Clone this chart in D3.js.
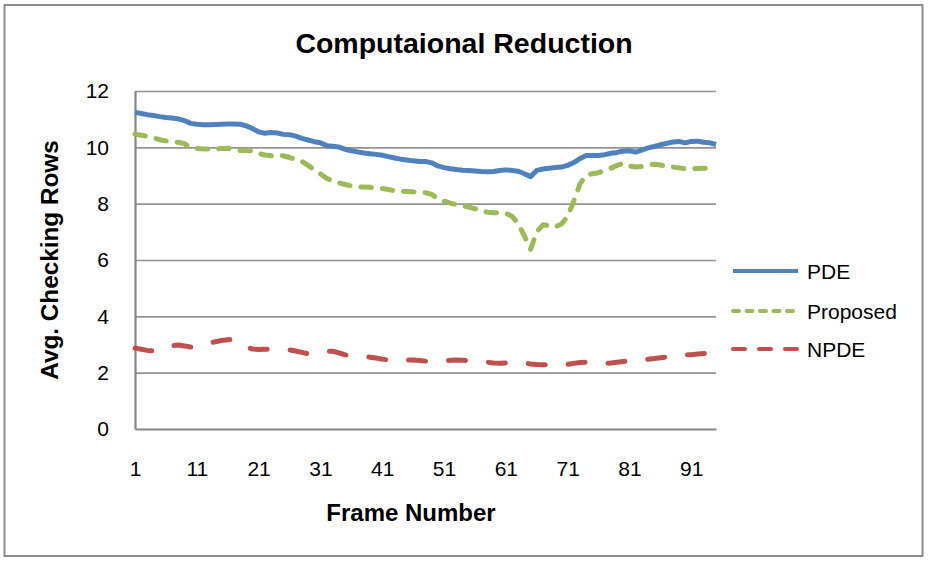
<!DOCTYPE html>
<html>
<head>
<meta charset="utf-8">
<script src="https://cdn.jsdelivr.net/npm/d3@7"></script>
<style>
  html, body { margin: 0; padding: 0; background: #fff; }
  svg { display: block; }
  text { font-family: "Liberation Sans", Arial, Helvetica, sans-serif; fill: #000; }
</style>
</head>
<body>
<svg id="chart" width="928" height="561"></svg>
<script>
// Average number of checked rows per frame for three methods
const pde = [
  11.24, 11.2, 11.16, 11.13, 11.09, 11.06, 11.04, 11.01, 10.95, 10.85,
  10.82, 10.8, 10.8, 10.81, 10.82, 10.83, 10.83, 10.82, 10.76, 10.67,
  10.55, 10.5, 10.53, 10.51, 10.46, 10.45, 10.4, 10.32, 10.26, 10.2,
  10.16, 10.06, 10.04, 10.01, 9.93, 9.88, 9.84, 9.8, 9.77, 9.75,
  9.72, 9.67, 9.62, 9.58, 9.55, 9.52, 9.5, 9.5, 9.45, 9.34,
  9.28, 9.24, 9.21, 9.19, 9.18, 9.16, 9.14, 9.13, 9.14, 9.18,
  9.2, 9.18, 9.15, 9.06, 8.96, 9.18, 9.23, 9.26, 9.28, 9.3,
  9.36, 9.46, 9.6, 9.71, 9.71, 9.71, 9.74, 9.79, 9.82, 9.87,
  9.88, 9.83, 9.9, 9.98, 10.03, 10.09, 10.14, 10.19, 10.21, 10.16,
  10.21, 10.22, 10.18, 10.16, 10.1
];
const proposed = [
  10.47, 10.43, 10.39, 10.34, 10.27, 10.23, 10.2, 10.18, 10.13, 9.99,
  9.96, 9.94, 9.94, 9.94, 9.96, 9.97, 9.93, 9.89, 9.89, 9.87,
  9.78, 9.73, 9.7, 9.72, 9.7, 9.64, 9.57, 9.5, 9.36, 9.2,
  9.06, 8.9, 8.8, 8.74, 8.68, 8.63, 8.6, 8.59, 8.58, 8.56,
  8.54, 8.5, 8.46, 8.44, 8.43, 8.42, 8.41, 8.39, 8.33, 8.17,
  8.09, 8.02, 7.97, 7.93, 7.88, 7.82, 7.75, 7.7, 7.68, 7.67,
  7.66, 7.55, 7.3, 6.85, 6.38, 7.0, 7.25, 7.22, 7.17, 7.28,
  7.55, 8.1, 8.7, 9.02, 9.06, 9.1, 9.18, 9.26, 9.36, 9.44,
  9.34, 9.3, 9.32, 9.37, 9.4, 9.37, 9.33, 9.3, 9.27, 9.24,
  9.24, 9.25, 9.26, 9.26, 9.26
];
const npde = [
  2.87, 2.83, 2.79, 2.77, 2.8, 2.88, 2.96, 2.98, 2.95, 2.91,
  2.92, 2.98, 3.05, 3.1, 3.14, 3.17, 3.19, 3.05, 2.9, 2.84,
  2.82, 2.83, 2.83, 2.83, 2.82, 2.81, 2.77, 2.72, 2.67, 2.68,
  2.72, 2.76, 2.76, 2.7, 2.63, 2.6, 2.58, 2.57, 2.55, 2.52,
  2.48, 2.45, 2.44, 2.45, 2.45, 2.45, 2.43, 2.41, 2.39, 2.4,
  2.42, 2.44, 2.45, 2.44, 2.43, 2.42, 2.4, 2.37, 2.34, 2.33,
  2.34, 2.35, 2.36, 2.34, 2.31, 2.29, 2.28, 2.28, 2.28, 2.28,
  2.3, 2.33, 2.36, 2.37, 2.36, 2.34, 2.33, 2.34, 2.37, 2.4,
  2.42, 2.44, 2.46, 2.48, 2.5, 2.53, 2.56, 2.59, 2.61, 2.63,
  2.64, 2.66, 2.68, 2.7, 2.72
];
const frames = pde.map((_, i) => i + 1);
const xTickLabels = [1, 11, 21, 31, 41, 51, 61, 71, 81, 91];
const yTickLabels = [0, 2, 4, 6, 8, 10, 12];
const seriesNames = ["PDE", "Proposed", "NPDE"];

const series = [
  { name: seriesNames[0], values: pde,      color: "#4F81BD", dash: null,      legendDash: null },
  { name: seriesNames[1], values: proposed, color: "#9BBB59", dash: "10.5 11", legendDash: "6 7.5" },
  { name: seriesNames[2], values: npde,     color: "#C0504D", dash: "17 23",   legendDash: "12 14" }
];

const svg = d3.select("#chart");
const plot = { left: 135, right: 716, top: 91, bottom: 429 };

const x = d3.scaleLinear().domain([1, frames.length]).range([plot.left, plot.right]);
const y = d3.scaleLinear().domain([0, 12]).range([plot.bottom, plot.top]);

// Outer chart frame
svg.append("rect")
  .attr("x", 4.5).attr("y", 5).attr("width", 918).attr("height", 551)
  .attr("fill", "#fff").attr("stroke", "#8c8c8c").attr("stroke-width", 2);

// Title
svg.append("text")
  .attr("x", 464).attr("y", 53)
  .attr("text-anchor", "middle")
  .style("font-size", "28.5px").style("font-weight", "bold")
  .text("Computaional Reduction");

// Horizontal gridlines
svg.append("g")
  .attr("transform", `translate(${plot.left},0)`)
  .call(d3.axisLeft(y).tickValues(yTickLabels.filter(v => v > 0))
    .tickSize(-(plot.right - plot.left)).tickFormat(""))
  .call(g => g.select(".domain").remove())
  .call(g => g.selectAll("line").attr("stroke", "#939393").attr("stroke-width", 1.6));

// Y axis
svg.append("g")
  .attr("transform", `translate(${plot.left},0)`)
  .call(d3.axisLeft(y).tickValues(yTickLabels).tickSize(0).tickPadding(26))
  .call(g => g.select(".domain").attr("stroke", "#868686").attr("stroke-width", 2.2))
  .call(g => g.selectAll("text").style("font-size", "21px")
    .style("font-family", "'Liberation Sans', Arial, sans-serif").attr("fill", "#000"));

// X axis
svg.append("g")
  .attr("transform", `translate(0,${plot.bottom})`)
  .call(d3.axisBottom(x).tickValues(xTickLabels).tickSize(0).tickPadding(32).tickFormat(d3.format("d")))
  .call(g => g.select(".domain").attr("stroke", "#868686").attr("stroke-width", 2.2))
  .call(g => g.selectAll("text").style("font-size", "21px")
    .style("font-family", "'Liberation Sans', Arial, sans-serif").attr("fill", "#000"));

// Axis titles
svg.append("text")
  .attr("x", 411).attr("y", 521)
  .attr("text-anchor", "middle")
  .style("font-size", "24px").style("font-weight", "bold")
  .text("Frame Number");

svg.append("text")
  .attr("transform", `translate(58,${(plot.top + plot.bottom) / 2}) rotate(-90)`)
  .attr("text-anchor", "middle")
  .style("font-size", "24.3px").style("font-weight", "bold")
  .text("Avg. Checking Rows");

// Series lines
const line = d3.line().x((d, i) => x(frames[i])).y(d => y(d));

svg.append("g").selectAll("path")
  .data(series)
  .join("path")
  .attr("d", s => line(s.values))
  .attr("fill", "none")
  .attr("stroke", s => s.color)
  .attr("stroke-width", 5)
  .attr("stroke-linejoin", "round")
  .attr("stroke-linecap", s => s.dash ? "round" : "butt")
  .attr("stroke-dasharray", s => s.dash);

// Legend
const legend = svg.append("g");
const legendY = [271, 311, 349];
series.forEach((s, i) => {
  legend.append("line")
    .attr("x1", 733).attr("x2", 798)
    .attr("y1", legendY[i]).attr("y2", legendY[i])
    .attr("stroke", s.color).attr("stroke-width", 4)
    .attr("stroke-linecap", s.legendDash ? "round" : "butt")
    .attr("stroke-dasharray", s.legendDash);
  legend.append("text")
    .attr("x", 807).attr("y", legendY[i])
    .attr("dy", "0.36em")
    .style("font-size", "21px")
    .text(s.name);
});
</script>
</body>
</html>
